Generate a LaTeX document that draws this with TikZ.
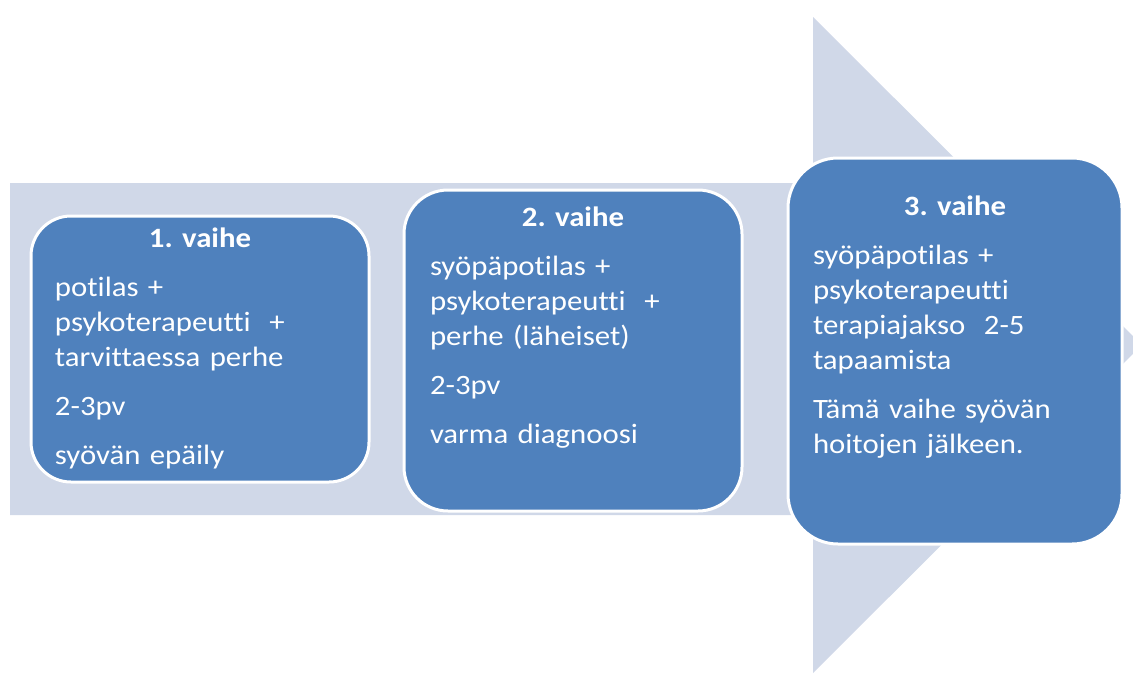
\documentclass[tikz,border=0pt]{standalone}
\usepackage{fontspec}
\setmainfont{Carlito}[Ligatures={NoCommon,NoContextual}, FakeStretch=1.1]
\usetikzlibrary{positioning}
\setlength{\parindent}{0pt}
\frenchspacing
\definecolor{vaihesin}{HTML}{4F81BD}
\definecolor{nuolisin}{HTML}{D0D8E8}
\tikzset{
  vaihe/.style={draw=white, line width=3pt, fill=vaihesin, rounded corners=#1, inner sep=0pt},
  vaihe/.default=40pt,
  teksti/.style={text=white, align=left, inner sep=0pt, text width=#1,
    font=\fontsize{28}{35}\selectfont\frenchspacing},
}
\newcommand{\otsikko}[1]{\makebox[\hsize]{\bfseries #1}}

\begin{document}
\begin{tikzpicture}[x=1pt, y=-1pt]
  \useasboundingbox (0,0) rectangle (1133,673);
  % iso nuoli taustalla
  \begin{scope}
    \clip (0,0) rectangle (1133,673);
    \fill[nuolisin] (10,183) -- (813,183) -- (813,17) -- (1142,345)
      -- (813,673) -- (813,515) -- (10,515) -- cycle;
  \end{scope}

  \node (b1) [vaihe, minimum width=338pt, minimum height=266pt] at (200,349) {};
  \node (b2) [vaihe=44pt, minimum width=338pt, minimum height=321pt] at (573,350.5) {};
  \node (b3) [vaihe=50pt, minimum width=334pt, minimum height=386pt] at (955,351) {};

  \node (t1) [teksti=290pt, below=13.5pt of b1.north]
    {\otsikko{1. vaihe}\\[14pt]
     potilas +\\
     psykoterapeutti\ \ +\\
     tarvittaessa perhe\\[14pt]
     2-3pv\\[14pt]
     syövän epäily};
  \node (t2) [teksti=286pt, below=18pt of b2.north]
    {\otsikko{2. vaihe}\\[14pt]
     syöpäpotilas +\\
     psykoterapeutti\ \ +\\
     perhe (läheiset)\\[14pt]
     2-3pv\\[14pt]
     varma diagnoosi};
  \node (t3) [teksti=284pt, below=39.5pt of b3.north]
    {\otsikko{3. vaihe}\\[14pt]
     syöpäpotilas +\\
     psykoterapeutti\\
     terapiajakso\ \ 2-5\\
     tapaamista\\[14pt]
     Tämä vaihe syövän\\
     hoitojen jälkeen.};
\end{tikzpicture}
\end{document}
